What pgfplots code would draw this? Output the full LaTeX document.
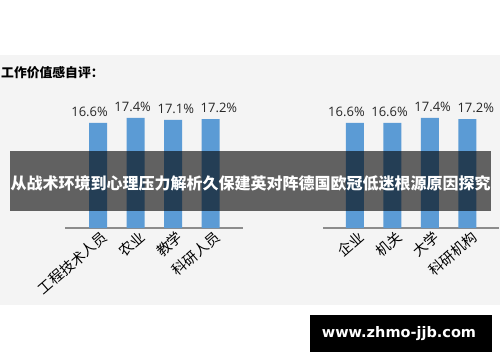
\documentclass[border=0pt]{standalone}
\usepackage{pgfplots}
\pgfplotsset{compat=1.18}
\usepackage{fontspec}
\setmainfont{Noto Sans CJK SC}
\newfontfamily\lat{Open Sans}
\newfontfamily\wm{DejaVu Sans}
\definecolor{barblue}{HTML}{5B9BD5}
\definecolor{bgc}{HTML}{F4F4F4}
\definecolor{axc}{HTML}{8C8C8C}
\pgfplotsset{mybar/.style={
  ybar, bar width=18pt, x=37.5pt, y=6.33pt, ymin=0, ymax=20,
  axis x line*=bottom, axis y line=none,
  /pgf/number format/assume math mode=true,
  xtick=data, major tick length=0pt,
  x tick label style={rotate=41, anchor=north east, font=\fontsize{14.3}{14.3}\selectfont, inner sep=1pt, xshift=2pt, yshift=-2pt},
  x axis line style={color=axc, line width=1.4pt, -},
  enlargelimits=false, clip=false,
  visualization depends on=x \as \myx,
  nodes near coords={\pgfmathprintnumber[fixed,precision=1,fixed zerofill,assume math mode=true]{\pgfplotspointmeta}\%},
  every node near coord/.append style={font=\lat\fontsize{13}{13}\selectfont, text=black!85, xshift={5.6*\myx-8.4}, yshift=3pt},
}}
\begin{document}
\begin{tikzpicture}[x=1pt,y=1pt]
\path[use as bounding box] (0,0) rectangle (500,362);
\fill[white] (0,0) rectangle (500,362);
\fill[bgc] (0,57) rectangle (500,307);
\node[anchor=west, inner sep=0pt, font=\bfseries\fontsize{12.8}{12.8}\selectfont] at (1,289) {工作价值感自评：};
\begin{axis}[mybar, at={(65pt,134pt)}, anchor=south west, xmin=-0.88, xmax=3.87,
  xticklabels={工程技术人员,农业,教学,科研人员}]
\addplot[fill=barblue, draw=none] coordinates {(0,16.6) (1,17.4) (2,17.1) (3,17.2)};
\end{axis}
\begin{axis}[mybar, at={(323pt,134pt)}, anchor=south west, xmin=-0.85, xmax=3.85,
  xticklabels={企业,机关,大学,科研机构}]
\addplot[fill=barblue, draw=none] coordinates {(0,16.6) (1,16.6) (2,17.4) (3,17.2)};
\end{axis}
\fill[black, opacity=0.6] (10,151) rectangle (491,211);
\node[text=white, inner sep=0pt, font=\bfseries\fontsize{16}{16}\selectfont] at (250.5,179) {从战术环境到心理压力解析久保建英对阵德国欧冠低迷根源原因探究};
\fill[black] (310,10) rectangle (492,47);
\node[text=white, inner sep=0pt, font=\wm\bfseries\fontsize{14.5}{14.5}\selectfont] at (399,28) {www.zhmo-jjb.com};
\end{tikzpicture}
\end{document}
